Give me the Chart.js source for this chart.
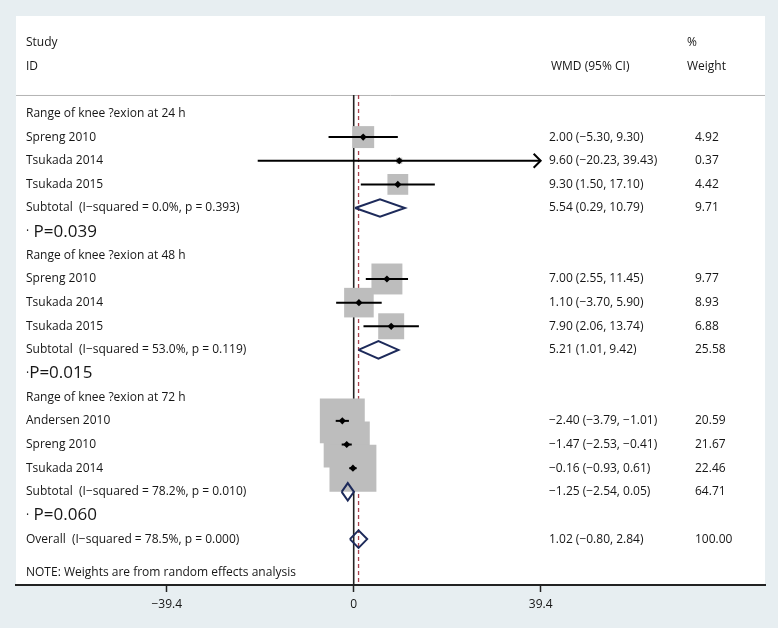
<!DOCTYPE html>
<html>
<head>
<meta charset="utf-8">
<script src="https://cdn.jsdelivr.net/npm/chart.js@4.4.1/dist/chart.umd.min.js"></script>
<style>
  html, body { margin: 0; padding: 0; background: #e7eef1; }
  #wrap { width: 778px; height: 628px; position: relative; }
</style>
</head>
<body>
<div id="wrap"><canvas id="c"></canvas></div>
<script>
// ---------- data ----------
const groupLabels = ["Range of knee ?exion at 24 h", "Range of knee ?exion at 48 h", "Range of knee ?exion at 72 h"];
const groupRows = [0, 6, 12];

const studyNames = ["Spreng 2010", "Tsukada 2014", "Tsukada 2015",
                    "Spreng 2010", "Tsukada 2014", "Tsukada 2015",
                    "Andersen 2010", "Spreng 2010", "Tsukada 2014"];
const studyRows = [1, 2, 3, 7, 8, 9, 13, 14, 15];
const studyEst = [2.00, 9.60, 9.30, 7.00, 1.10, 7.90, -2.40, -1.47, -0.16];
const studyLo  = [-5.30, -20.23, 1.50, 2.55, -3.70, 2.06, -3.79, -2.53, -0.93];
const studyHi  = [9.30, 39.43, 17.10, 11.45, 5.90, 13.74, -1.01, -0.41, 0.61];
const studyWeight = [4.92, 0.37, 4.42, 9.77, 8.93, 6.88, 20.59, 21.67, 22.46];

const pooledLabels = ["Subtotal  (I\u2212squared = 0.0%, p = 0.393)",
                      "Subtotal  (I\u2212squared = 53.0%, p = 0.119)",
                      "Subtotal  (I\u2212squared = 78.2%, p = 0.010)",
                      "Overall  (I\u2212squared = 78.5%, p = 0.000)"];
const pooledRows = [4, 10, 16, 18];
const pooledEst = [5.54, 5.21, -1.25, 1.02];
const pooledLo  = [0.29, 1.01, -2.54, -0.80];
const pooledHi  = [10.79, 9.42, 0.05, 2.84];
const pooledWeight = [9.71, 25.58, 64.71, 100.00];

const pLabels = ["\u00b7 P=0.039", "\u00b7P=0.015", "\u00b7 P=0.060"];
const pRows = [5, 11, 17];

const headerLeft = ["Study", "ID"];
const headerCI = "WMD (95% CI)";
const headerWeight = ["%", "Weight"];
const noteText = "NOTE: Weights are from random effects analysis";

const tickValues = [-39.4, 0, 39.4];
const overallEffect = 1.02;

// ---------- layout constants ----------
const X_MIN = -71.17, X_MAX = 86.68;
const Y_MIN = -4.12, Y_MAX = 19.94;
const HEADER_ROW = -0.78, NOTE_ROW = 19.43;
const BOX_K = 9.9;      // px per sqrt(weight) for square side
const DIAMOND_H = 0.37; // half-height in rows
const CLIP_MAX = tickValues[tickValues.length - 1];

const TXT = "#161616";
const FONT = "12px 'Open Sans'";
const BIG_FONT = "17px 'Open Sans'";

const fmt = v => (v < 0 ? "\u2212" : "") + Math.abs(v).toFixed(2);
const ciText = (e, l, h) => fmt(e) + " (" + fmt(l) + ", " + fmt(h) + ")";

// ---------- datasets ----------
const datasets = [];

// reference lines
datasets.push({
  type: "scatter", showLine: true, order: 20,
  data: [{x: 0, y: HEADER_ROW}, {x: 0, y: Y_MAX}],
  borderColor: "#222", borderWidth: 1.6, pointRadius: 0
});
datasets.push({
  type: "scatter", showLine: true, order: 19,
  data: [{x: overallEffect, y: HEADER_ROW}, {x: overallEffect, y: Y_MAX}],
  borderColor: "#a8404c", borderWidth: 1.3, borderDash: [4, 3], pointRadius: 0
});

// weight boxes
datasets.push({
  type: "scatter", order: 15,
  data: studyEst.map((e, i) => ({x: e, y: studyRows[i]})),
  pointStyle: "rect",
  pointRadius: studyWeight.map(w => BOX_K * Math.sqrt(w) / Math.SQRT2),
  backgroundColor: "#bdbdbd", borderWidth: 0
});

// CI lines
studyEst.forEach((e, i) => {
  datasets.push({
    type: "scatter", showLine: true, order: 10,
    data: [{x: Math.max(studyLo[i], -CLIP_MAX), y: studyRows[i]}, {x: Math.min(studyHi[i], CLIP_MAX), y: studyRows[i]}],
    borderColor: "#000", borderWidth: 2, pointRadius: 0
  });
});

// point estimates
datasets.push({
  type: "scatter", order: 5,
  data: studyEst.map((e, i) => ({x: e, y: studyRows[i]})),
  pointStyle: "rectRot", pointRadius: 3.6,
  backgroundColor: "#000", borderWidth: 0
});

// pooled diamonds
pooledEst.forEach((e, i) => {
  const r = pooledRows[i];
  datasets.push({
    type: "scatter", showLine: true, order: 3,
    data: [{x: pooledLo[i], y: r}, {x: e, y: r - DIAMOND_H}, {x: pooledHi[i], y: r},
           {x: e, y: r + DIAMOND_H}, {x: pooledLo[i], y: r}],
    borderColor: "#1d2a5a", borderWidth: 2, pointRadius: 0,
    borderJoinStyle: "miter", fill: false
  });
});

// ---------- plugins ----------
const bgPlugin = {
  id: "bg",
  beforeDraw(chart) {
    const {ctx, chartArea: a} = chart;
    ctx.save();
    ctx.fillStyle = "#e7eef1";
    ctx.fillRect(0, 0, chart.width, chart.height);
    ctx.fillStyle = "#ffffff";
    ctx.fillRect(a.left, a.top, a.right - a.left, a.bottom - a.top);
    // header separator
    const y = chart.scales.y.getPixelForValue(HEADER_ROW);
    ctx.strokeStyle = "#b4b4b4";
    ctx.lineWidth = 1;
    ctx.beginPath();
    ctx.moveTo(a.left, y + 0.5);
    ctx.lineTo(a.right, y + 0.5);
    ctx.stroke();
    ctx.restore();
  }
};

const textPlugin = {
  id: "texts",
  afterDatasetsDraw(chart) {
    const {ctx} = chart;
    const ys = chart.scales.y, xs = chart.scales.x;
    const yp = r => ys.getPixelForValue(r);
    const LX = 26, CX = 549, WX = 695, HWX = 687;
    ctx.save();
    ctx.fillStyle = TXT;
    ctx.textBaseline = "middle";
    ctx.textAlign = "left";
    ctx.font = FONT;
    ctx.fillText(headerLeft[0], LX, yp(-3));
    ctx.fillText(headerLeft[1], LX, yp(-2));
    ctx.fillText(headerWeight[0], HWX, yp(-3));
    ctx.fillText(headerWeight[1], HWX, yp(-2));
    ctx.fillText(headerCI, 551, yp(-2));
    groupLabels.forEach((t, i) => ctx.fillText(t, LX, yp(groupRows[i])));
    studyNames.forEach((t, i) => {
      ctx.fillText(t, LX, yp(studyRows[i]));
      ctx.fillText(ciText(studyEst[i], studyLo[i], studyHi[i]), CX, yp(studyRows[i]));
      ctx.fillText(studyWeight[i].toFixed(2), WX, yp(studyRows[i]));
    });
    pooledLabels.forEach((t, i) => {
      ctx.fillText(t, LX, yp(pooledRows[i]));
      ctx.fillText(ciText(pooledEst[i], pooledLo[i], pooledHi[i]), CX, yp(pooledRows[i]));
      ctx.fillText(pooledWeight[i].toFixed(2), WX, yp(pooledRows[i]));
    });
    ctx.fillText(noteText, LX, yp(NOTE_ROW));
    pLabels.forEach((t, i) => {
      const y = yp(pRows[i]);
      ctx.font = FONT;
      const dot = t.charAt(0);
      ctx.fillText(dot, LX, y);
      const w = ctx.measureText(dot).width;
      ctx.font = BIG_FONT;
      ctx.fillText(t.slice(1), LX + w, y);
    });
    // arrowheads for clipped CIs
    ctx.strokeStyle = "#000";
    ctx.lineWidth = 2;
    studyHi.forEach((h, i) => {
      if (h > CLIP_MAX) {
        const tx = xs.getPixelForValue(CLIP_MAX), ty = yp(studyRows[i]);
        ctx.beginPath();
        ctx.moveTo(tx - 7, ty - 7);
        ctx.lineTo(tx, ty);
        ctx.lineTo(tx - 7, ty + 7);
        ctx.stroke();
      }
    });
    ctx.restore();
  }
};

new Chart(document.getElementById("c"), {
  type: "scatter",
  data: {datasets},
  options: {
    responsive: true,
    maintainAspectRatio: false,
    animation: false,
    layout: {autoPadding: false, padding: {left: 16, right: 13, top: 16, bottom: 0}},
    plugins: {legend: {display: false}, tooltip: {enabled: false}},
    scales: {
      x: {
        type: "linear", min: X_MIN, max: X_MAX,
        afterBuildTicks: s => { s.ticks = tickValues.map(v => ({value: v})); },
        afterFit: s => { s.height = 43; },
        border: {display: true, color: "#222", width: 2},
        grid: {display: true, drawOnChartArea: false, drawTicks: true, tickLength: 7,
               tickColor: "#222", tickWidth: 1.5},
        ticks: {
          padding: 5, color: TXT, autoSkip: false, maxRotation: 0,
          font: {family: "'Open Sans'", size: 12},
          callback: v => v === 0 ? "0" : (v < 0 ? "\u2212" : "") + Math.abs(v).toFixed(1)
        }
      },
      y: {type: "linear", display: false, min: Y_MIN, max: Y_MAX, reverse: true}
    }
  },
  plugins: [bgPlugin, textPlugin]
});
</script>
</body>
</html>
